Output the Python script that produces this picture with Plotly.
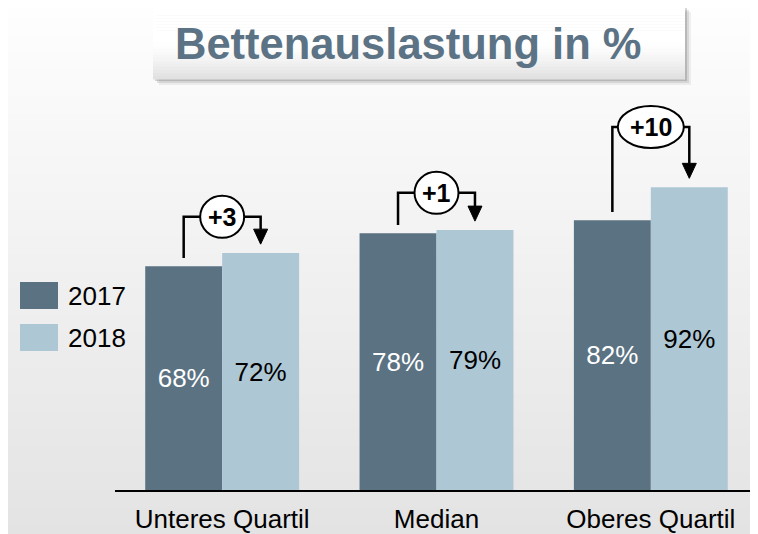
import plotly.graph_objects as go

# data
categories = ["Unteres Quartil", "Median", "Oberes Quartil"]
series_names = ["2017", "2018"]
values_2017 = [68, 78, 82]
values_2018 = [72, 79, 92]
change_labels = ["+3", "+1", "+10"]
title_text = "Bettenauslastung in %"

# styling / layout constants
dark = "#5b7282"
light = "#aec7d5"
font_family = "Liberation Sans, Arial, sans-serif"
OFF = 8                      # page body margin, figure sits at (8, 8) in the window
W, H = 758 - OFF, 534 - OFF
L, R, T, B = 115 - OFF, 0, 100 - OFF, 44
plot_w = W - L - R
plot_h = H - T - B
y_top = 118.5
bracket_level = [83, 90.3, 110.3]   # height of the connector line per group
bargap = 0.282
off = (1 - bargap) / 4               # offset of each bar centre from category


# helpers take window pixel coordinates (as measured on the reference)
def px_x(px):
    return (px - OFF - L) / plot_w


def px_y(py):
    return (H - B - (py - OFF)) / plot_h


def grey(v):
    v = int(round(v))
    return f"rgb({v},{v},{v})"


shapes = []

# page background: vertical gradient white -> light grey
n = 60
for k in range(n):
    y0 = OFF + H * k / n
    y1 = OFF + H * (k + 1) / n + 1
    shapes.append(dict(type="rect", xref="paper", yref="paper", layer="below",
                       x0=px_x(OFF), x1=px_x(OFF + W), y0=px_y(y0), y1=px_y(y1),
                       fillcolor=grey(254 - 27 * (y0 / 534)), line_width=0))

# title box shadow
for dx, a in [(6, 0.07), (4, 0.13), (2, 0.2)]:
    shapes.append(dict(type="rect", xref="paper", yref="paper", layer="below",
                       x0=px_x(153 + dx), x1=px_x(685 + dx), y0=px_y(6 + dx), y1=px_y(79 + dx),
                       fillcolor=f"rgba(60,60,60,{a})", line_width=0))

# title box gradient
m = 24
bx0, bx1, by0, by1 = 153, 685, 6, 79
for k in range(m):
    y0 = by0 + (by1 - by0) * k / m
    y1 = by0 + (by1 - by0) * (k + 1) / m
    t = k / (m - 1)
    v = 255 if t < 0.5 else 255 - 30 * ((t - 0.5) / 0.5) ** 1.3
    shapes.append(dict(type="rect", xref="paper", yref="paper", layer="below",
                       x0=px_x(bx0), x1=px_x(bx1), y0=px_y(y0), y1=px_y(y1 + 0.5),
                       fillcolor=grey(v), line_width=0))

# legend swatches
for i, c in enumerate([dark, light]):
    top = 282 + 42 * i
    shapes.append(dict(type="rect", xref="paper", yref="paper",
                       x0=px_x(20), x1=px_x(58), y0=px_y(top), y1=px_y(top + 27),
                       fillcolor=c, line_width=0))

annotations = [
    dict(text=f"<b>{title_text}</b>", xref="paper", yref="paper",
         x=px_x(408), y=px_y(44), xanchor="center", yanchor="middle", showarrow=False,
         font=dict(family=font_family, size=43.5, color="#5b7384")),
]
for i, name in enumerate(series_names):
    annotations.append(dict(text=name, xref="paper", yref="paper",
                            xanchor="left", yanchor="middle",
                            x=px_x(66), y=px_y(296 + 42 * i), showarrow=False,
                            font=dict(family=font_family, size=26, color="black")))

# brackets with change labels
ux = 3 / plot_w              # x units per pixel (range width 3)
uy = y_top / plot_h          # y units per pixel
for i in range(len(categories)):
    a, b = values_2017[i], values_2018[i]
    label = change_labels[i]
    lev = bracket_level[i]
    hw = 11 * len(label) * ux
    hh = 21 * uy
    xa, xb = i - off, i + off
    tip = b + 2.7
    base = tip + 15 * uy
    shapes.append(dict(type="path", xref="x", yref="y",
                       path=f"M{xa},{a + 2.5} L{xa},{lev} L{i - hw},{lev}",
                       line=dict(color="black", width=2.5)))
    shapes.append(dict(type="path", xref="x", yref="y",
                       path=f"M{i + hw},{lev} L{xb},{lev} L{xb},{base}",
                       line=dict(color="black", width=2.5)))
    shapes.append(dict(type="path", xref="x", yref="y",
                       path=f"M{xb - 7 * ux},{base} L{xb + 7 * ux},{base} L{xb},{tip} Z",
                       fillcolor="black", line=dict(color="black", width=1)))
    shapes.append(dict(type="circle", xref="x", yref="y",
                       x0=i - hw, x1=i + hw, y0=lev - hh, y1=lev + hh,
                       fillcolor="white", line=dict(color="black", width=2)))
    annotations.append(dict(text=f"<b>{label}</b>", x=i, y=lev, xref="x", yref="y",
                            showarrow=False,
                            font=dict(family=font_family, size=25, color="black")))

fig = go.Figure()
fig.add_trace(go.Bar(x=categories, y=values_2017, name=series_names[0],
                     marker=dict(color=dark, line_width=0),
                     texttemplate="%{y}%", textposition="inside", insidetextanchor="middle",
                     textangle=0, textfont=dict(family=font_family, size=26, color="white")))
fig.add_trace(go.Bar(x=categories, y=values_2018, name=series_names[1],
                     marker=dict(color=light, line_width=0),
                     texttemplate="%{y}%", textposition="inside", insidetextanchor="middle",
                     textangle=0, textfont=dict(family=font_family, size=26, color="black")))

fig.update_layout(
    width=W, height=H,
    margin=dict(l=L, r=R, t=T, b=B),
    barmode="group", bargap=bargap, bargroupgap=0,
    showlegend=False,
    paper_bgcolor="rgba(0,0,0,0)", plot_bgcolor="rgba(0,0,0,0)",
    shapes=shapes, annotations=annotations,
    font=dict(family=font_family, color="black"),
)
fig.update_xaxes(range=[-0.5, 2.5], showline=True, linecolor="black", linewidth=2,
                 showgrid=False, zeroline=False, ticks="outside", ticklen=5,
                 tickcolor="rgba(0,0,0,0)", automargin=False,
                 tickfont=dict(family=font_family, size=26, color="black"))
fig.update_yaxes(range=[0, y_top], visible=False, showgrid=False, zeroline=False)

fig.write_html("out.html")
